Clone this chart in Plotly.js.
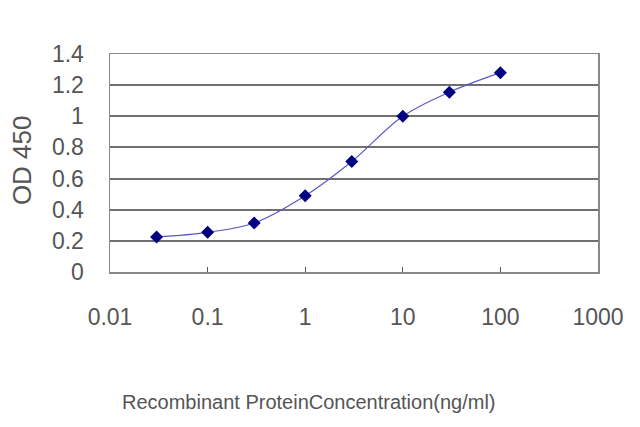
<!DOCTYPE html>
<html><head><meta charset="utf-8">
<script src="https://cdn.plot.ly/plotly-3.0.1.min.js"></script>
<style>html,body{margin:0;padding:0;background:#fff}</style>
</head><body>
<div id="chart" style="width:640px;height:427px"></div>
<script>
const concentration = [0.03, 0.1, 0.3, 1, 3, 10, 30, 100];
const od450 = [0.225, 0.255, 0.315, 0.49, 0.71, 1.0, 1.155, 1.28];
const xTickVals = [0.01, 0.1, 1, 10, 100, 1000];
const xTickText = ["0.01", "0.1", "1", "10", "100", "1000"];
const yTickVals = [0, 0.2, 0.4, 0.6, 0.8, 1, 1.2, 1.4];
const yTickText = ["0", "0.2", "0.4", "0.6", "0.8", "1", "1.2", "1.4"];

const fontFam = "Liberation Sans, Arial, sans-serif";
const trace = {
  x: concentration, y: od450, type: "scatter", mode: "lines+markers",
  line: {color: "#5a5ac0", width: 1.2, shape: "spline"},
  marker: {symbol: "diamond", size: 10, color: "#000080"}
};
const layout = {
  width: 640, height: 427,
  margin: {l: 110, r: 42, t: 54, b: 155},
  paper_bgcolor: "#fff", plot_bgcolor: "#fff",
  showlegend: false,
  font: {family: fontFam, color: "#555"},
  xaxis: {
    type: "log", range: [-2, 3], tickvals: xTickVals, ticktext: xTickText,
    showgrid: false, zeroline: false,
    showline: true, mirror: true, linecolor: "#888", linewidth: 1.5,
    ticks: "inside", ticklen: 5, tickcolor: "#555", tickwidth: 1,
    tickfont: {size: 23, color: "#555"}, ticklabelstandoff: 24
  },
  yaxis: {
    range: [0, 1.4], tickvals: yTickVals, ticktext: yTickText,
    showgrid: true, gridcolor: "#6f6f6f", gridwidth: 2, zeroline: false,
    showline: true, mirror: true, linecolor: "#888", linewidth: 1.5,
    ticks: "", tickfont: {size: 23, color: "#555"}, ticklabelstandoff: 20
  },
  annotations: [
    {text: "Recombinant ProteinConcentration(ng/ml)", xref: "paper", yref: "paper",
     x: 0.408, y: -0.596, showarrow: false, font: {size: 20, color: "#555", family: fontFam},
     xanchor: "center", yanchor: "middle"},
    {text: "OD 450", xref: "paper", yref: "paper", x: -0.18, y: 0.514, textangle: -90,
     showarrow: false, font: {size: 26, color: "#555", family: fontFam},
     xanchor: "center", yanchor: "middle"}
  ]
};
Plotly.newPlot("chart", [trace], layout, {displayModeBar: false, staticPlot: true});
</script>
</body></html>
